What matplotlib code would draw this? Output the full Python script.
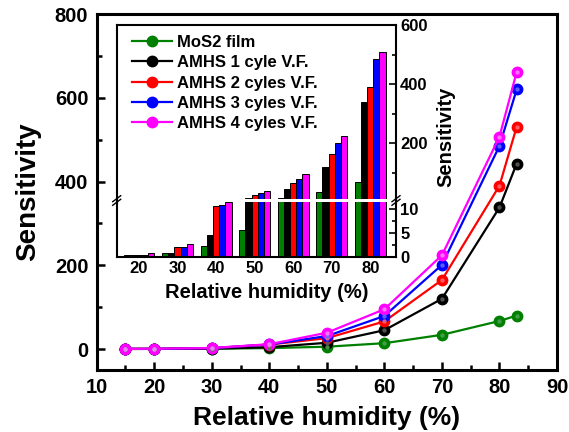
import matplotlib
matplotlib.use("Agg")
import matplotlib.pyplot as plt
import numpy as np
from matplotlib.ticker import MultipleLocator, FixedLocator

plt.rcParams['font.family'] = ['Liberation Sans', 'DejaVu Sans']
plt.rcParams['font.weight'] = 'bold'

# ---------------- data ----------------
humidity = [15, 20, 30, 40, 50, 60, 70, 80, 83]
mos2_film = [0.3, 0.4, 0.85, 2.3, 5.6, 14, 34, 67, 80]
amhs_1 = [0.3, 0.4, 0.85, 4.5, 15, 45, 120, 338, 443]
amhs_2 = [0.3, 0.4, 2.1, 10.7, 26, 66, 165, 390, 531]
amhs_3 = [0.3, 0.4, 2.1, 10.9, 31, 79, 201, 485, 620]
amhs_4 = [0.3, 0.7, 2.6, 11.5, 39, 95, 224, 507, 662]

series_labels = ["MoS2 film", "AMHS 1 cyle V.F.", "AMHS 2 cyles V.F.",
                 "AMHS 3 cyles V.F.", "AMHS 4 cyles V.F."]
series_values = [mos2_film, amhs_1, amhs_2, amhs_3, amhs_4]
colors = ["#008000", "#000000", "#FF0000", "#0000FF", "#FF00FF"]
highlights = ["#4FA04F", "#5A5A5A", "#FF6A6A", "#6A6AFF", "#FF80FF"]

inset_categories = ["20", "30", "40", "50", "60", "70", "80"]
inset_humidity = [20, 30, 40, 50, 60, 70, 80]

W, H = 569, 432
fig = plt.figure(figsize=(W / 100, H / 100), dpi=100)

def fx(px):
    return px / W

def fy(py):
    return 1 - py / H

# ---------------- main axes ----------------
ax = fig.add_axes([fx(96.7), fy(370), fx(557) - fx(96.7), fy(14) - fy(370)])
for vals, c, hc, lab in zip(series_values, colors, highlights, series_labels):
    ax.plot(humidity, vals, color=c, lw=1.6, marker='o', ms=7.5,
            mfc=c, mec=c, label=lab, zorder=3)
    ax.plot(humidity, vals, ls='none', marker='o', ms=2.2, mfc=hc, mec=hc,
            alpha=0.8, zorder=4)

ax.set_xlim(10, 90)
ax.set_ylim(-50, 800)
ax.xaxis.set_major_locator(MultipleLocator(10))
ax.xaxis.set_minor_locator(MultipleLocator(5))
ax.yaxis.set_major_locator(FixedLocator([0, 200, 400, 600, 800]))
ax.yaxis.set_minor_locator(FixedLocator([100, 300, 500, 700]))
ax.tick_params(which='both', direction='in', top=False, right=False, width=1.8)
ax.tick_params(which='major', length=6, labelsize=14.5, pad=6)
ax.tick_params(which='minor', length=3.5)
for lab in ax.get_xticklabels() + ax.get_yticklabels():
    lab.set_fontweight('bold')
for s in ax.spines.values():
    s.set_linewidth(2.2)
ax.set_xlabel("Relative humidity (%)", fontsize=19, fontweight='bold', labelpad=6)
ax.set_ylabel("Sensitivity", fontsize=20, fontweight='bold', labelpad=10)

# ---------------- inset (broken y axis) ----------------
left, right = 116.7, 396
ax_lo = fig.add_axes([fx(left), fy(256.7), fx(right) - fx(left), fy(202) - fy(256.7)])
ax_up = fig.add_axes([fx(left), fy(199.3), fx(right) - fx(left), fy(25) - fy(199.3)])

n = len(series_values)
bw = 0.16
xpos = np.arange(len(inset_categories))
for a in (ax_lo, ax_up):
    a.set_facecolor('white')
    for k, (vals, c) in enumerate(zip(series_values, colors)):
        v = [vals[humidity.index(h)] for h in inset_humidity]
        a.bar(xpos + (k - (n - 1) / 2) * bw, v, width=bw, color=c,
              edgecolor='black', linewidth=0.7)
    a.set_xlim(-0.58, 6.67)
    for s in a.spines.values():
        s.set_linewidth(1.5)
    a.yaxis.tick_right()
    a.tick_params(axis='y', which='both', direction='in', left=False, right=True,
                  width=1.2, labelsize=12, pad=3)
    a.tick_params(axis='y', which='major', length=5)
    a.tick_params(axis='y', which='minor', length=3)

ax_lo.set_ylim(0, 11.5)
ax_lo.yaxis.set_major_locator(FixedLocator([0, 5, 10]))
ax_lo.yaxis.set_minor_locator(FixedLocator([2.5, 7.5]))
ax_lo.spines['top'].set_visible(False)
ax_lo.set_xticks(xpos)
ax_lo.set_xticklabels(inset_categories)
ax_lo.tick_params(axis='x', length=0, labelsize=12, pad=3)

ax_up.set_ylim(10, 600)
ax_up.yaxis.set_major_locator(FixedLocator([200, 400, 600]))
ax_up.yaxis.set_minor_locator(FixedLocator([100, 300, 500]))
ax_up.spines['bottom'].set_visible(False)
ax_up.set_xticks([])

for a in (ax_lo, ax_up):
    for lab in a.get_xticklabels() + a.get_yticklabels():
        lab.set_fontweight('bold')

# spine continuation and break marks
for xp in (left, right):
    fig.add_artist(plt.Line2D([fx(xp), fx(xp)], [fy(202.5), fy(198.8)],
                              transform=fig.transFigure, color='black', lw=1.5))
    for dy in (-1.8, 1.8):
        fig.add_artist(plt.Line2D([fx(xp - 4), fx(xp + 4)],
                                  [fy(200.5 + dy + 3), fy(200.5 + dy - 3)],
                                  transform=fig.transFigure, color='black', lw=1.0))

fig.text(fx(267), fy(292), "Relative humidity (%)", fontsize=14.5,
         fontweight='bold', ha='center', va='center')
fig.text(fx(446), fy(137), "Sensitivity", fontsize=14.5, fontweight='bold',
         ha='center', va='center', rotation=90)

# legend
handles, labels = ax.get_legend_handles_labels()
leg = fig.legend(handles, labels, loc='upper left',
                 bbox_to_anchor=(fx(131.7), fy(35)), bbox_transform=fig.transFigure,
                 frameon=False, handlelength=2.4, handletextpad=0.3,
                 labelspacing=0.32, borderpad=0, borderaxespad=0, numpoints=1,
                 prop={'weight': 'bold', 'size': 12})
leg.set_zorder(10)

fig.savefig("out.png", dpi=100)
